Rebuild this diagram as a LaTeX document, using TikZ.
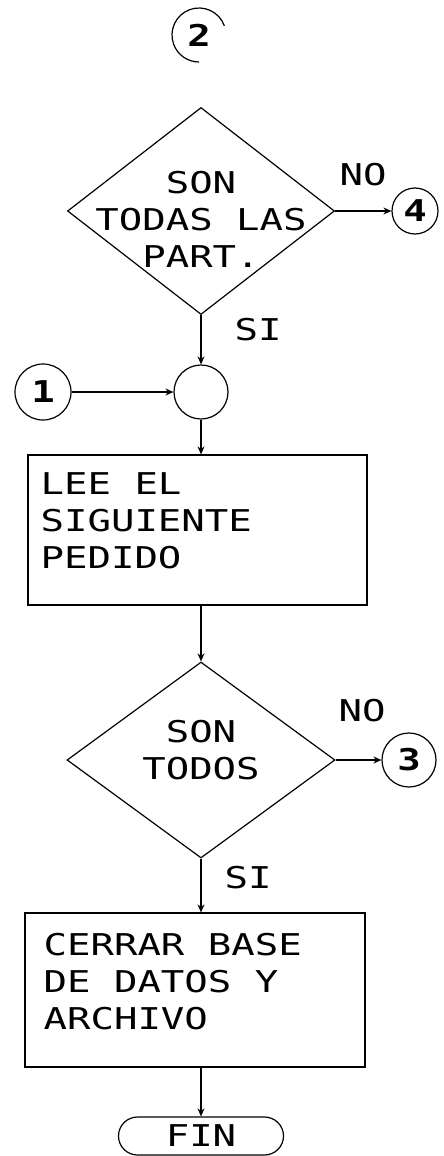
\documentclass[tikz,border=0pt]{standalone}
\usepackage{fontspec}
\newfontfamily\plotfont[FakeStretch=1.3]{DejaVu Sans Mono}
\usetikzlibrary{shapes.geometric,shapes.misc,arrows.meta}
\begin{document}
\begin{tikzpicture}[x=1pt,y=-1pt, line width=1.2pt,
  txt/.style={font=\plotfont\fontsize{30}{37}\selectfont, inner sep=0pt},
  dec/.style={diamond, draw, inner sep=0pt},
  conn/.style={circle, draw, inner sep=0pt, font=\plotfont\bfseries\fontsize{30}{30}\selectfont},
  proc/.style={rectangle, draw, inner sep=0pt},
  flow/.style={-{Stealth[length=8pt,width=7pt]}}]
\useasboundingbox (0,0) rectangle (444,1156);

% connector 2 (open arc)
\node[conn, draw=none, minimum size=54pt] (c2) at (199,35) {2};
\draw ([shift={(20:27pt)}]c2.center) arc[start angle=20, end angle=270, radius=27pt];

% first decision
\node[dec, minimum width=267pt, minimum height=207pt] (d1) at (201,211) {};
\node[txt, align=center] (t1) at (201,219) {SON\\TODAS LAS\\PART.};
\node[txt] (no1) at (363,175) {NO};
\node[conn, minimum size=46pt] (c4) at (415,211) {4};
\draw[flow] (d1.east) -- (c4.west);
\node[txt] (si1) at (258,330) {SI};

% junction and connector 1
\node[circle, draw, minimum size=54pt, inner sep=0pt] (j) at (201,392) {};
\node[conn, minimum size=56pt] (c1) at (43,392) {1};
\draw[flow] (d1.south) -- (j.north);
\draw[flow] (c1.east) -- (j.west);

% read box
\node[proc, minimum width=339pt, minimum height=150pt] (b1) at (197.5,530) {};
\node[txt, anchor=north west, align=left] (t2) at (40,472) {LEE EL\\SIGUIENTE\\PEDIDO};
\draw[flow] (j.south) -- (j.south |- b1.north);

% second decision
\node[dec, minimum width=268pt, minimum height=196pt] (d2) at (201,760) {};
\node[txt, align=center] (t3) at (201,750) {SON\\TODOS};
\node[txt] (no2) at (362,711) {NO};
\node[conn, minimum size=54pt] (c3) at (409,760) {3};
\draw[flow] (d2.north |- b1.south) -- (d2.north);
\draw[flow] (d2.east) -- (c3.west);
\node[txt] (si2) at (248,878) {SI};

% close box
\node[proc, minimum width=340pt, minimum height=154pt] (b2) at (195,990) {};
\node[txt, anchor=north west, align=left] (t4) at (43,933) {CERRAR BASE\\DE DATOS Y\\ARCHIVO};
\draw[flow] (d2.south) -- (d2.south |- b2.north);

% end
\node[rounded rectangle, draw, minimum width=165pt, minimum height=38pt, inner sep=0pt, txt] (fin) at (201,1136) {FIN};
\draw[flow] (fin.north |- b2.south) -- (fin.north);
\end{tikzpicture}
\end{document}
